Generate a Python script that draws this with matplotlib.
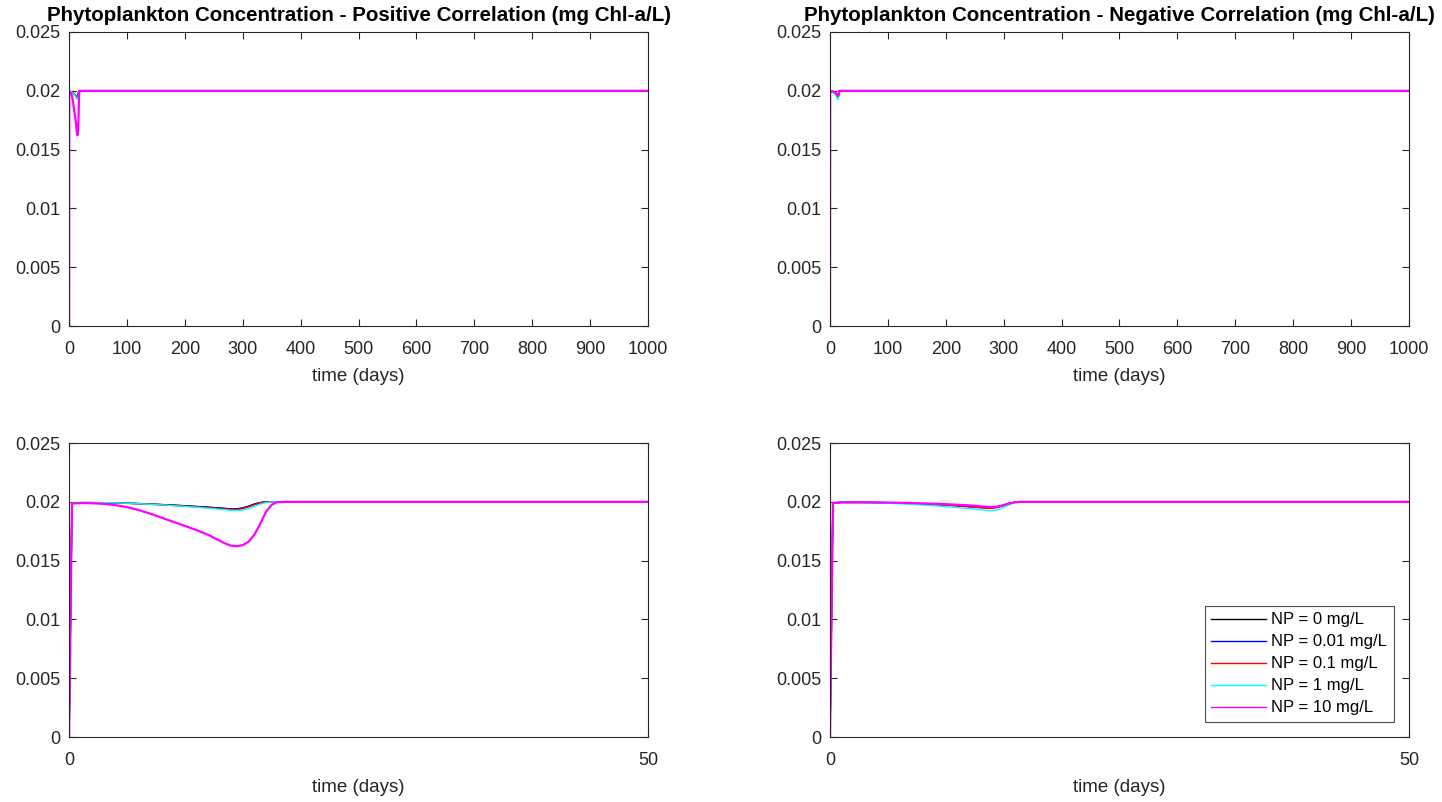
import matplotlib
matplotlib.use('Agg')
import matplotlib.pyplot as plt

plt.rcParams['font.family'] = ['Liberation Sans', 'DejaVu Sans']

# simulation output, sampled at these days
days = [0, 0.25, 1, 2, 3, 4, 5, 6, 7, 8, 9, 10, 11, 12, 13, 13.5, 14, 14.5,
        15, 15.5, 16, 16.5, 17, 17.5, 18, 20, 50, 1000]

np_labels = ['NP = 0 mg/L', 'NP = 0.01 mg/L', 'NP = 0.1 mg/L', 'NP = 1 mg/L', 'NP = 10 mg/L']
np_colors = ['#000000', '#0000FF', '#FF0000', '#00FFFF', '#FF00FF']

# positive correlation (mg Chl-a/L)
pos_np0 = [0, 0.01990, 0.01993, 0.01993, 0.01992, 0.01990, 0.01988, 0.01985, 0.01981, 0.01977,
           0.01972, 0.01967, 0.01961, 0.01955, 0.01948, 0.01944, 0.01940, 0.01941, 0.01948,
           0.01963, 0.01981, 0.01994, 0.01999, 0.02, 0.02, 0.02, 0.02, 0.02]
pos_np001 = [0, 0.01990, 0.01993, 0.01993, 0.01992, 0.01990, 0.01988, 0.01985, 0.01980, 0.01976,
             0.01971, 0.01965, 0.01959, 0.01953, 0.01946, 0.01942, 0.01938, 0.01939, 0.01946,
             0.01961, 0.01979, 0.01993, 0.01999, 0.02, 0.02, 0.02, 0.02, 0.02]
pos_np01 = [0, 0.01990, 0.01993, 0.01993, 0.01992, 0.01990, 0.01987, 0.01984, 0.01979, 0.01975,
            0.01969, 0.01963, 0.01957, 0.01950, 0.01943, 0.01939, 0.01935, 0.01935, 0.01942,
            0.01957, 0.01976, 0.01991, 0.01998, 0.02, 0.02, 0.02, 0.02, 0.02]
pos_np1 = [0, 0.01990, 0.01994, 0.01994, 0.01993, 0.01991, 0.01988, 0.01984, 0.01979, 0.01974,
           0.01968, 0.01961, 0.01954, 0.01946, 0.01937, 0.01932, 0.01928, 0.01926, 0.01930,
           0.01942, 0.01960, 0.01980, 0.01994, 0.01999, 0.02, 0.02, 0.02, 0.02]
pos_np10 = [0, 0.01985, 0.01990, 0.01988, 0.01983, 0.01972, 0.01955, 0.01930, 0.01900, 0.01865,
            0.01830, 0.01795, 0.01760, 0.01720, 0.01670, 0.01645, 0.01627, 0.01622, 0.01632,
            0.01660, 0.01720, 0.01810, 0.01915, 0.01975, 0.01998, 0.02, 0.02, 0.02]

# negative correlation (mg Chl-a/L)
neg_np0 = [0, 0.01990, 0.01995, 0.01995, 0.01995, 0.01994, 0.01992, 0.01990, 0.01987, 0.01983,
           0.01979, 0.01974, 0.01968, 0.01961, 0.01954, 0.01951, 0.01951, 0.01958, 0.01972,
           0.01988, 0.01997, 0.02, 0.02, 0.02, 0.02, 0.02, 0.02, 0.02]
neg_np001 = [0, 0.01990, 0.01995, 0.01995, 0.01995, 0.01994, 0.01992, 0.01989, 0.01986, 0.01982,
             0.01978, 0.01973, 0.01967, 0.01960, 0.01953, 0.01949, 0.01949, 0.01956, 0.01971,
             0.01987, 0.01997, 0.02, 0.02, 0.02, 0.02, 0.02, 0.02, 0.02]
neg_np01 = [0, 0.01990, 0.01995, 0.01995, 0.01994, 0.01993, 0.01991, 0.01989, 0.01985, 0.01981,
            0.01976, 0.01971, 0.01964, 0.01957, 0.01949, 0.01945, 0.01945, 0.01952, 0.01968,
            0.01985, 0.01996, 0.02, 0.02, 0.02, 0.02, 0.02, 0.02, 0.02]
neg_np1 = [0, 0.01990, 0.01994, 0.01994, 0.01993, 0.01991, 0.01988, 0.01984, 0.01979, 0.01973,
           0.01966, 0.01959, 0.01951, 0.01942, 0.01932, 0.01927, 0.01926, 0.01933, 0.01952,
           0.01976, 0.01993, 0.01999, 0.02, 0.02, 0.02, 0.02, 0.02, 0.02]
neg_np10 = [0, 0.01990, 0.01996, 0.01996, 0.01996, 0.01995, 0.01994, 0.01992, 0.01990, 0.01987,
            0.01984, 0.01980, 0.01975, 0.01970, 0.01962, 0.01958, 0.01956, 0.01960, 0.01972,
            0.01987, 0.01997, 0.02, 0.02, 0.02, 0.02, 0.02, 0.02, 0.02]

pos_series = [pos_np0, pos_np001, pos_np01, pos_np1, pos_np10]
neg_series = [neg_np0, neg_np001, neg_np01, neg_np1, neg_np10]

axis_col = '#262626'

fig = plt.figure(figsize=(14.42, 8.02), dpi=100, facecolor='white')

left_x, right_x, w = 0.0479, 0.5756, 0.4015
top_y, bot_y, h = 0.5935, 0.081, 0.3666

ax_tl = fig.add_axes([left_x, top_y, w, h])
ax_tr = fig.add_axes([right_x, top_y, w, h])
ax_bl = fig.add_axes([left_x, bot_y, w, h])
ax_br = fig.add_axes([right_x, bot_y, w, h])


def style_axes(ax, xmax, xticks):
    ax.set_xlim(0, xmax)
    ax.set_ylim(0, 0.025)
    ax.set_xticks(xticks)
    ax.set_yticks([0, 0.005, 0.01, 0.015, 0.02, 0.025])
    ax.set_yticklabels(['0', '0.005', '0.01', '0.015', '0.02', '0.025'])
    ax.tick_params(direction='in', top=True, right=True, length=5, width=0.8,
                   colors=axis_col, labelsize=13)
    ax.tick_params(axis='x', pad=11)
    ax.tick_params(axis='y', pad=6)
    for sp in ax.spines.values():
        sp.set_color(axis_col)
        sp.set_linewidth(0.8)
    ax.set_xlabel('time (days)', fontsize=13.5, color=axis_col, labelpad=7)


for ax, series in [(ax_tl, pos_series), (ax_bl, pos_series),
                   (ax_tr, neg_series), (ax_br, neg_series)]:
    for vals, col, lab in zip(series, np_colors, np_labels):
        ax.plot(days, vals, color=col, lw=1.6 if lab.startswith('NP = 10') else 1.0, label=lab)

style_axes(ax_tl, 1000, range(0, 1001, 100))
style_axes(ax_tr, 1000, range(0, 1001, 100))
style_axes(ax_bl, 50, [0, 50])
style_axes(ax_br, 50, [0, 50])

ax_tl.set_title('Phytoplankton Concentration - Positive Correlation (mg Chl-a/L)',
                fontsize=14.8, fontweight='bold', color='black', pad=8)
ax_tr.set_title('Phytoplankton Concentration - Negative Correlation (mg Chl-a/L)',
                fontsize=14.8, fontweight='bold', color='black', pad=8)

leg = ax_br.legend(loc='lower right', bbox_to_anchor=(0.974, 0.051), borderaxespad=0,
                   fontsize=12, frameon=True, fancybox=False, handlelength=3.3,
                   handletextpad=0.3, labelspacing=0.42, borderpad=0.4)
leg.get_frame().set_edgecolor(axis_col)
leg.get_frame().set_linewidth(0.8)
for ln in leg.get_lines():
    ln.set_linewidth(1.0)

fig.savefig('out.png', dpi=100, facecolor='white')
